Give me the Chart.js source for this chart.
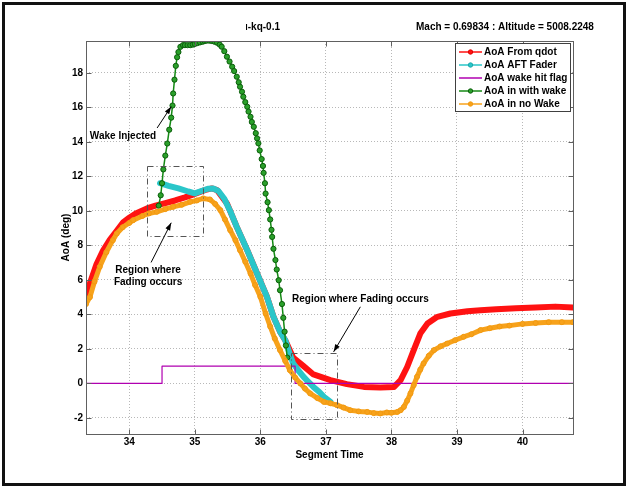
<!DOCTYPE html>
<html>
<head>
<meta charset="utf-8">
<title>AoA fader</title>
<script src="https://cdn.jsdelivr.net/npm/chart.js@4.4.0/dist/chart.umd.min.js"></script>
<style>
  html, body { margin: 0; padding: 0; background: #fff; }
  #wrap { width: 627px; height: 487px; position: relative; }
</style>
</head>
<body>
<div id="wrap"><canvas id="aoaChart" width="627" height="487"></canvas></div>
<script>
// AoA from qdot
const qdotTime = [33.34, 33.40, 33.50, 33.60, 33.70, 33.80, 33.91, 34.00, 34.10, 34.27, 34.40, 34.55, 34.70, 34.85, 34.95,
  35.05, 35.15, 35.26, 35.34, 35.49, 35.64, 35.80, 35.95, 36.10, 36.20, 36.30, 36.38, 36.50, 36.66, 36.81, 37.07,
  37.32, 37.58, 37.83, 38.04, 38.14, 38.24, 38.34, 38.44, 38.55, 38.70, 38.90, 39.16, 39.36, 39.60, 39.90, 40.20, 40.50, 40.77];
const qdotAoA = [4.9, 5.8, 6.9, 7.7, 8.3, 8.8, 9.35, 9.6, 9.85, 10.14, 10.3, 10.45, 10.6, 10.78, 10.91,
  11.05, 11.2, 11.3, 11.2, 10.43, 9.07, 7.72, 6.37, 5.02, 3.86, 3.0, 2.5, 1.5, 1.0, 0.52, 0.19,
  -0.04, -0.2, -0.24, -0.2, 0.19, 0.95, 1.93, 2.89, 3.47, 3.86, 4.05, 4.18, 4.24, 4.3, 4.35, 4.4, 4.45, 4.4];

// AoA AFT fader
const faderTime = [34.47, 34.60, 34.75, 34.90, 35.00, 35.10, 35.20, 35.28, 35.36, 35.45, 35.55, 35.64, 35.72, 35.80,
  35.88, 35.95, 36.03, 36.10, 36.20, 36.30, 36.38, 36.45, 36.50, 36.58, 36.66, 36.73, 36.81, 36.90, 36.97, 37.07];
const faderAoA = [11.6, 11.45, 11.3, 11.12, 11.01, 11.15, 11.28, 11.3, 11.15, 10.7, 9.9, 9.07, 8.4, 7.72,
  7.0, 6.37, 5.65, 5.02, 3.86, 3.0, 2.5, 1.7, 1.16, 0.75, 0.38, 0.1, -0.2, -0.5, -0.78, -1.07];

// wake hit flag
const flagTime = [33.34, 34.50, 34.50, 36.53, 36.53, 40.77];
const flagVal = [0, 0, 1, 1, 0, 0];

// AoA with wake
const wakeTime = [34.45, 34.48, 34.50, 34.52, 34.55, 34.58, 34.61, 34.64, 34.66, 34.67, 34.69, 34.71, 34.73, 34.75,
  34.78, 34.82, 34.85, 34.89, 34.93, 34.97, 35.00, 35.04, 35.08, 35.12, 35.15, 35.18, 35.22, 35.26, 35.30, 35.34,
  35.38, 35.41, 35.45, 35.49, 35.53, 35.57, 35.60, 35.64, 35.67, 35.69, 35.72, 35.74, 35.77, 35.80, 35.82, 35.85,
  35.87, 35.90, 35.93, 35.95, 35.97, 35.99, 36.02, 36.04, 36.05, 36.07, 36.08, 36.11, 36.13, 36.15, 36.17, 36.18,
  36.20, 36.23, 36.25, 36.28, 36.30, 36.33, 36.35, 36.37, 36.39, 36.41];
const wakeAoA = [10.3, 10.9, 11.6, 12.4, 13.2, 13.9, 14.7, 15.4, 16.1, 16.8, 17.6, 18.4, 18.9, 19.2,
  19.5, 19.6, 19.6, 19.6, 19.6, 19.63, 19.67, 19.72, 19.76, 19.8, 19.84, 19.86, 19.86, 19.84, 19.8, 19.74,
  19.63, 19.51, 19.25, 18.93, 18.65, 18.35, 18.1, 17.77, 17.45, 17.19, 16.9, 16.61, 16.3, 16.03, 15.75, 15.45,
  15.15, 14.87, 14.5, 14.2, 13.91, 13.5, 13.0, 12.6, 12.2, 11.6, 11.0, 10.5, 10.04, 9.5, 8.9, 8.49,
  7.8, 7.15, 6.6, 5.98, 5.4, 4.6, 3.8, 3.0, 2.2, 1.5];

// AoA without wake
const noWakeTime = [33.34, 33.40, 33.47, 33.55, 33.65, 33.75, 33.81, 33.90, 34.00, 34.06, 34.20, 34.30, 34.42, 34.55,
  34.67, 34.80, 34.93, 35.03, 35.13, 35.23, 35.31, 35.39, 35.46, 35.54, 35.62, 35.69, 35.77, 35.85, 35.92, 36.00,
  36.08, 36.15, 36.22, 36.30, 36.38, 36.45, 36.53, 36.61, 36.68, 36.76, 36.87, 36.97, 37.07, 37.17, 37.27, 37.37,
  37.50, 37.63, 37.73, 37.83, 37.93, 38.00, 38.09, 38.14, 38.19, 38.24, 38.29, 38.34, 38.39, 38.44, 38.49, 38.57,
  38.65, 38.75, 38.85, 38.97, 39.10, 39.22, 39.36, 39.50, 39.65, 39.80, 40.00, 40.20, 40.40, 40.60, 40.77];
const noWakeAoA = [4.6, 5.0, 5.9, 6.76, 7.6, 8.3, 8.69, 9.05, 9.3, 9.46, 9.7, 9.85, 9.94, 10.1,
  10.23, 10.35, 10.52, 10.6, 10.72, 10.66, 10.4, 10.04, 9.5, 8.88, 8.3, 7.72, 7.05, 6.37, 5.7, 5.02,
  4.05, 3.3, 2.6, 1.93, 1.3, 0.77, 0.35, 0.0, -0.3, -0.58, -0.85, -1.07, -1.15, -1.26, -1.4, -1.55,
  -1.62, -1.65, -1.72, -1.74, -1.68, -1.7, -1.65, -1.55, -1.36, -1.0, -0.58, -0.1, 0.38, 0.8, 1.16, 1.6,
  1.93, 2.15, 2.31, 2.5, 2.7, 2.85, 3.09, 3.2, 3.3, 3.35, 3.45, 3.5, 3.55, 3.55, 3.55];

const xTicks = [34, 35, 36, 37, 38, 39, 40];
const yTicks = [-2, 0, 2, 4, 6, 8, 10, 12, 14, 16, 18];
const seriesNames = ['AoA From qdot', 'AoA AFT Fader', 'AoA wake hit flag', 'AoA in with wake', 'AoA in no Wake'];

const FONT = '"Liberation Sans", Arial, Helvetica, sans-serif';
const pts = (t, v) => t.map((x, i) => ({ x, y: v[i] }));

// series styles, in plotting order
const styles = [
  { color: '#ff1212', width: 6, radius: 0, fill: '#ff1212', edge: '#e00000', order: 5 },
  { color: '#2ac6c9', width: 6, radius: 0, fill: '#2ac6c9', edge: '#1aa8ab', order: 4 },
  { color: '#b000b0', width: 1.2, radius: 0, fill: '#b000b0', edge: '#b000b0', order: 3 },
  { color: '#148a14', width: 1.5, radius: 2.6, fill: '#2aa02a', edge: '#0b5e0b', order: 2 },
  { color: '#f7a21b', width: 5, radius: 2.5, fill: '#f7a21b', edge: '#f39a10', order: 1 }
];
const seriesData = [
  pts(qdotTime, qdotAoA),
  pts(faderTime, faderAoA),
  pts(flagTime, flagVal),
  pts(wakeTime, wakeAoA),
  pts(noWakeTime, noWakeAoA)
];

// text and boxes on the axes, in data units
const notes = [
  { text: ['Wake Injected'], x: 33.905, y: 14.33, from: [34.425, 14.8], to: [34.64, 16.04] },
  { text: ['Region where', 'Fading occurs'], x: 34.287, y: 6.2, from: [34.333, 7.01], to: [34.64, 9.31] },
  { text: ['Region where Fading occurs'], x: 37.526, y: 4.884, from: [37.526, 4.44], to: [37.118, 1.83] }
];
const boxes = [
  { x0: 34.264, x1: 35.12, y0: 8.55, y1: 12.59 },
  { x0: 36.468, x1: 37.165, y0: -2.05, y1: 1.77 }
];

function arrow(ctx, x1, y1, x2, y2) {
  const a = Math.atan2(y2 - y1, x2 - x1);
  ctx.beginPath();
  ctx.moveTo(x1, y1);
  ctx.lineTo(x2, y2);
  ctx.stroke();
  ctx.beginPath();
  ctx.moveTo(x2, y2);
  ctx.lineTo(x2 - 8 * Math.cos(a - 0.33), y2 - 8 * Math.sin(a - 0.33));
  ctx.lineTo(x2 - 8 * Math.cos(a + 0.33), y2 - 8 * Math.sin(a + 0.33));
  ctx.closePath();
  ctx.fill();
}

const figure = {
  id: 'figure',
  beforeDraw(chart) {
    const ctx = chart.ctx;
    ctx.save();
    ctx.fillStyle = '#fff';
    ctx.fillRect(0, 0, chart.width, chart.height);
    ctx.restore();
  },
  afterDatasetsDraw(chart) {
    const { ctx, chartArea: a, scales: { x, y } } = chart;
    ctx.save();

    // dash-dot boxes
    ctx.strokeStyle = '#555';
    ctx.lineWidth = 1;
    ctx.setLineDash([6, 3, 1, 3]);
    boxes.forEach(b => {
      const l = x.getPixelForValue(b.x0), r = x.getPixelForValue(b.x1);
      const t = y.getPixelForValue(b.y1), btm = y.getPixelForValue(b.y0);
      ctx.strokeRect(Math.round(l) + 0.5, Math.round(t) + 0.5, Math.round(r - l), Math.round(btm - t));
    });
    ctx.setLineDash([]);

    // notes with arrows
    ctx.fillStyle = '#000';
    ctx.strokeStyle = '#000';
    ctx.lineWidth = 1;
    ctx.font = 'bold 10px ' + FONT;
    ctx.textAlign = 'center';
    ctx.textBaseline = 'middle';
    notes.forEach(n => {
      const cx = x.getPixelForValue(n.x), cy = y.getPixelForValue(n.y);
      const lh = 11.5;
      n.text.forEach((s, i) => ctx.fillText(s, cx, cy + (i - (n.text.length - 1) / 2) * lh));
      arrow(ctx, x.getPixelForValue(n.from[0]), y.getPixelForValue(n.from[1]),
        x.getPixelForValue(n.to[0]), y.getPixelForValue(n.to[1]));
    });

    // axes box and inward ticks
    ctx.strokeStyle = '#606060';
    ctx.lineWidth = 1;
    const L = Math.round(a.left) + 0.5, R = Math.round(a.right) + 0.5;
    const T = Math.round(a.top) + 0.5, B = Math.round(a.bottom) + 0.5;
    ctx.strokeRect(L, T, R - L, B - T);
    ctx.beginPath();
    xTicks.forEach(v => {
      const px = Math.round(x.getPixelForValue(v)) + 0.5;
      ctx.moveTo(px, B); ctx.lineTo(px, B - 5);
      ctx.moveTo(px, T); ctx.lineTo(px, T + 5);
    });
    yTicks.forEach(v => {
      const py = Math.round(y.getPixelForValue(v)) + 0.5;
      ctx.moveTo(L, py); ctx.lineTo(L + 5, py);
      ctx.moveTo(R, py); ctx.lineTo(R - 5, py);
    });
    ctx.stroke();

    // legend
    const lx = 455, ly = 43, lw = 115, lh = 68;
    ctx.fillStyle = '#fff';
    ctx.fillRect(lx, ly, lw, lh);
    ctx.strokeStyle = '#404040';
    ctx.strokeRect(lx + 0.5, ly + 0.5, lw, lh);
    ctx.textAlign = 'left';
    seriesNames.forEach((name, i) => {
      const s = styles[i];
      const ry = ly + 9 + i * 13;
      ctx.strokeStyle = s.color;
      ctx.lineWidth = 1.5;
      ctx.beginPath();
      ctx.moveTo(lx + 4, ry);
      ctx.lineTo(lx + 27, ry);
      ctx.stroke();
      if (i !== 2) {
        ctx.beginPath();
        ctx.arc(lx + 15.5, ry, 2.2, 0, Math.PI * 2);
        ctx.fillStyle = s.fill;
        ctx.fill();
        ctx.lineWidth = 1;
        ctx.strokeStyle = s.edge;
        ctx.stroke();
      }
      ctx.fillStyle = '#000';
      ctx.fillText(name, lx + 29, ry + 0.5);
    });
    ctx.restore();
  },
  afterDraw(chart) {
    const ctx = chart.ctx;
    ctx.save();
    ctx.fillStyle = '#000';
    ctx.font = 'bold 10px ' + FONT;
    ctx.textBaseline = 'middle';
    ctx.textAlign = 'left';
    ctx.fillText('Mach = 0.69834 : Altitude = 5008.2248', 416, 27);
    ctx.beginPath();
    ctx.rect(246, 15, 60, 20);
    ctx.clip();
    ctx.fillText('ı-kq-0.1', 245, 27);
    ctx.restore();

    // figure frame
    ctx.save();
    ctx.strokeStyle = '#111';
    ctx.lineWidth = 3;
    ctx.strokeRect(3.5, 3.5, chart.width - 6, chart.height - 6);
    ctx.restore();
  }
};

new Chart(document.getElementById('aoaChart'), {
  type: 'scatter',
  data: {
    datasets: seriesNames.map((name, i) => ({
      label: name,
      data: seriesData[i],
      showLine: true,
      borderColor: styles[i].color,
      borderWidth: styles[i].width,
      pointRadius: styles[i].radius,
      pointBackgroundColor: styles[i].fill,
      pointBorderColor: styles[i].edge,
      pointBorderWidth: 1,
      borderJoinStyle: 'round',
      borderCapStyle: 'round',
      tension: 0,
      order: styles[i].order
    }))
  },
  options: {
    responsive: false,
    animation: false,
    devicePixelRatio: 1,
    layout: { padding: { left: 58, right: 54, top: 41, bottom: 26 } },
    plugins: {
      legend: { display: false },
      tooltip: { enabled: false }
    },
    scales: {
      x: {
        type: 'linear',
        min: 33.34,
        max: 40.77,
        afterBuildTicks: s => { s.ticks = xTicks.map(v => ({ value: v })); },
        afterFit: s => { s.height = 27; },
        ticks: {
          color: '#000',
          padding: 2,
          font: { family: FONT, size: 10, weight: 'bold' },
          callback: v => String(v)
        },
        grid: { color: '#b8b8b8', lineWidth: 1, drawTicks: false },
        border: { display: false, dash: [1, 2] },
        title: {
          display: true,
          text: 'Segment Time',
          color: '#000',
          padding: { top: 1, bottom: 0 },
          font: { family: FONT, size: 10, weight: 'bold' }
        }
      },
      y: {
        type: 'linear',
        min: -2.93,
        max: 19.84,
        afterBuildTicks: s => { s.ticks = yTicks.map(v => ({ value: v })); },
        afterFit: s => { s.width = 28; },
        ticks: {
          color: '#000',
          padding: 3,
          font: { family: FONT, size: 10, weight: 'bold' },
          callback: v => String(v)
        },
        grid: { color: '#b8b8b8', lineWidth: 1, drawTicks: false },
        border: { display: false, dash: [1, 2] },
        title: {
          display: true,
          text: 'AoA (deg)',
          color: '#000',
          padding: { top: 2, bottom: 0 },
          font: { family: FONT, size: 10, weight: 'bold' }
        }
      }
    }
  },
  plugins: [figure]
});
</script>
</body>
</html>
